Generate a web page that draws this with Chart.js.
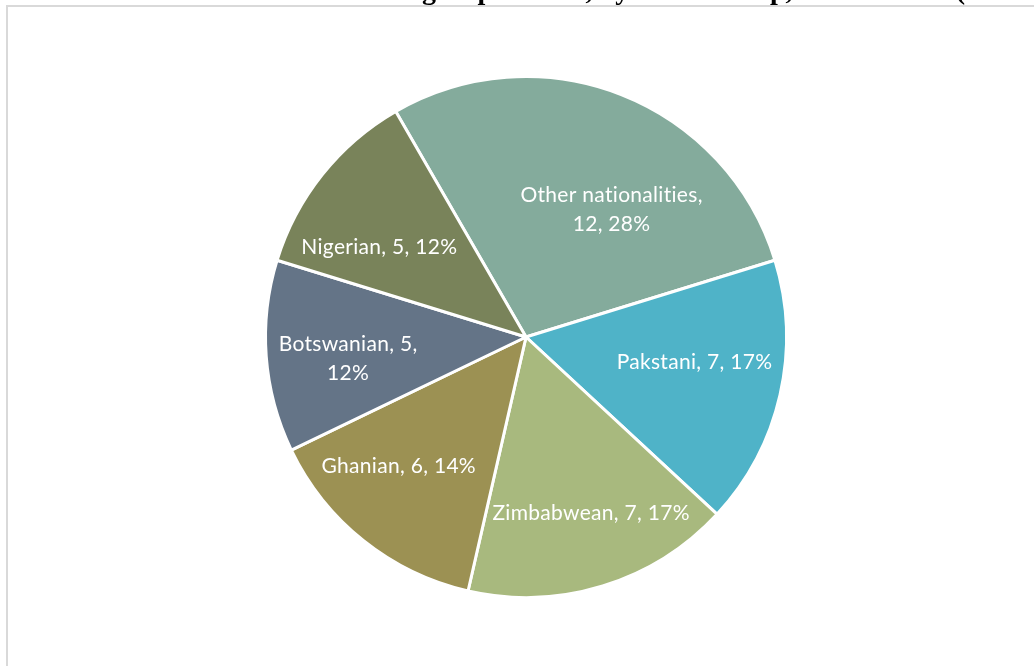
<!DOCTYPE html>
<html>
<head>
<meta charset="utf-8">
<script src="https://cdn.jsdelivr.net/npm/chart.js@4/dist/chart.umd.min.js"></script>
<style>
  html, body { margin: 0; padding: 0; background: #fff; }
  #pie { display: block; }
</style>
</head>
<body>
<canvas id="pie" width="1034" height="666"></canvas>
<script>
const nationalities = ["Other nationalities", "Pakstani", "Zimbabwean", "Ghanian", "Botswanian", "Nigerian"];
const counts = [12, 7, 7, 6, 5, 5];
const percents = ["28%", "17%", "17%", "14%", "12%", "12%"];
const colours = ['#84ab9c', '#4fb3c8', '#a8b97e', '#9c9153', '#647487', '#79835a'];

// label text lines, wrapped as in the original
const labelLines = [
    ["Other nationalities,", "12, 28%"],
    ["Pakstani, 7, 17%"],
    ["Zimbabwean, 7, 17%"],
    ["Ghanian, 6, 14%"],
    ["Botswanian, 5,", "12%"],
    ["Nigerian, 5, 12%"]
];
// nudges for label placement: angle shift (deg) and fraction of radius
const labelAngle = [12.4, -4.4, -3.1, 6, -2.7, -7.1];
const labelRadius = [0.59, 0.654, 0.723, 0.696, 0.688, 0.66];

const titlePrefix = "Nationalities of non-South African educators in the ";
const titleRest = "group leaders, by membership, 2010 to 2020 (n = 42)";

const frame = {
    id: 'frame',
    beforeDraw(chart) {
        const c = chart.ctx;
        c.save();
        c.strokeStyle = '#d9d9d9';
        c.lineWidth = 2;
        c.beginPath();
        c.moveTo(7, 666);
        c.lineTo(7, 6);
        c.lineTo(1034, 6);
        c.stroke();
        c.restore();
    },
    afterDraw(chart) {
        const c = chart.ctx;
        c.save();
        c.font = 'bold 28px "Liberation Serif"';
        c.fillStyle = '#000';
        c.textBaseline = 'alphabetic';
        const w = c.measureText(titlePrefix).width;
        c.fillText(titlePrefix + titleRest, 422 - w, -1);
        c.restore();
    }
};

const sliceLabels = {
    id: 'sliceLabels',
    afterDatasetsDraw(chart) {
        const c = chart.ctx;
        const arcs = chart.getDatasetMeta(0).data;
        c.save();
        c.font = '21px Lato';
        c.letterSpacing = '0.3px';
        c.fillStyle = '#fff';
        c.textAlign = 'center';
        c.textBaseline = 'middle';
        arcs.forEach((arc, i) => {
            const p = arc.getProps(['x', 'y', 'startAngle', 'endAngle', 'outerRadius'], true);
            const a = (p.startAngle + p.endAngle) / 2 + labelAngle[i] * Math.PI / 180;
            const r = p.outerRadius * labelRadius[i];
            const x = p.x + Math.cos(a) * r;
            const y = p.y + Math.sin(a) * r;
            const lines = labelLines[i];
            const lh = 29;
            lines.forEach((t, k) => {
                c.fillText(t, x, y + (k - (lines.length - 1) / 2) * lh);
            });
        });
        c.restore();
    }
};

new Chart(document.getElementById('pie').getContext('2d'), {
    type: 'pie',
    data: {
        labels: nationalities,
        datasets: [{
            data: counts,
            backgroundColor: colours,
            borderColor: '#fff',
            borderWidth: 3
        }]
    },
    options: {
        responsive: false,
        animation: false,
        rotation: -30,
        layout: { padding: { top: 75, bottom: 67, left: 18, right: 0 } },
        plugins: {
            legend: { display: false },
            tooltip: { enabled: false }
        }
    },
    plugins: [frame, sliceLabels]
});
</script>
</body>
</html>
